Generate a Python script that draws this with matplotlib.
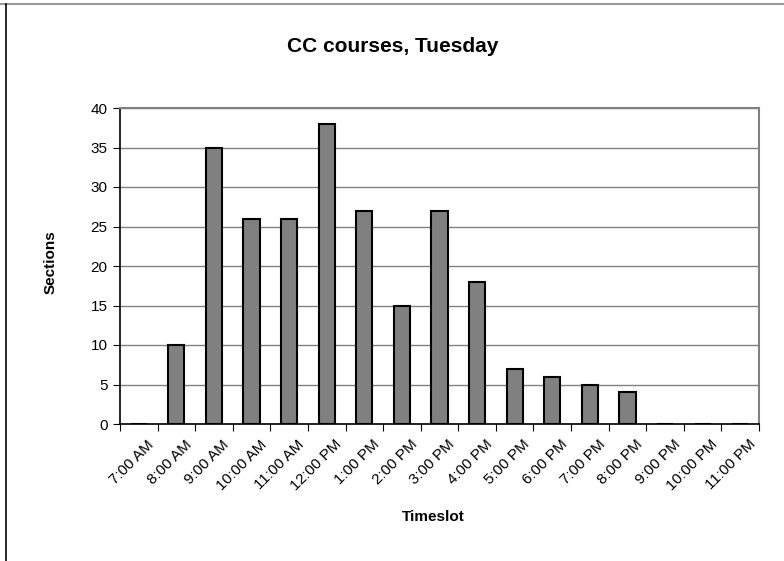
import matplotlib
matplotlib.use("Agg")
import matplotlib.pyplot as plt
import matplotlib.transforms as mtransforms
from matplotlib.lines import Line2D
import numpy as np

plt.rcParams['font.family'] = ['Liberation Sans', 'DejaVu Sans']

categories = ["7:00 AM", "8:00 AM", "9:00 AM", "10:00 AM", "11:00 AM", "12:00 PM",
              "1:00 PM", "2:00 PM", "3:00 PM", "4:00 PM", "5:00 PM", "6:00 PM",
              "7:00 PM", "8:00 PM", "9:00 PM", "10:00 PM", "11:00 PM"]
sections = [0, 10, 35, 26, 26, 38, 27, 15, 27, 18, 7, 6, 5, 4, 0, 0, 0]
yticks = [0, 5, 10, 15, 20, 25, 30, 35, 40]

fig = plt.figure(figsize=(7.84, 5.61), dpi=100)
ax = fig.add_axes([120/784, 1-424/561, (759-120)/784, (424-108)/561])

x = np.arange(len(categories))
ax.bar(x, sections, width=0.43, color="#808080", edgecolor="black", linewidth=1.5, zorder=3)

ax.set_xlim(-0.5, len(categories) - 0.5)
ax.set_ylim(0, 40)
ax.set_yticks(yticks)
ax.set_yticklabels([str(v) for v in yticks], fontsize=11)
ax.yaxis.grid(True, color="#808080", linewidth=1, zorder=0)
ax.set_axisbelow(True)

ax.set_xticks(np.arange(len(categories) + 1) - 0.5)
ax.set_xticklabels([])
ax.set_xticks(x, minor=True)
ax.set_xticklabels(categories, minor=True, rotation=45, ha="right",
                   rotation_mode="anchor", fontsize=11)
ax.tick_params(axis="x", which="minor", length=0, pad=6)
ax.tick_params(axis="x", which="major", length=5, direction="out", color="black")
ax.tick_params(axis="y", length=5, direction="out", color="black", pad=4)

offset = mtransforms.ScaledTranslation(8/100, -5/100, fig.dpi_scale_trans)
for lbl in ax.get_xticklabels(minor=True):
    lbl.set_transform(lbl.get_transform() + offset)

for s in ["top", "right"]:
    ax.spines[s].set_color("#808080")
    ax.spines[s].set_linewidth(1.5)
for s in ["left", "bottom"]:
    ax.spines[s].set_color("black")
    ax.spines[s].set_linewidth(1.2)

fig.text(393/784, 1-47/561, "CC courses, Tuesday", ha="center", va="center",
         fontsize=15, fontweight="bold")
fig.text(51/784, 1-262/561, "Sections", ha="center", va="center", rotation=90,
         fontsize=11, fontweight="bold")
fig.text(433/784, 1-517/561, "Timeslot", ha="center", va="center",
         fontsize=11, fontweight="bold")

fig.add_artist(Line2D([0, 1], [1-3.5/561, 1-3.5/561], color="#999999", linewidth=1.5,
                      transform=fig.transFigure))
fig.add_artist(Line2D([5.5/784, 5.5/784], [0, 1-3.5/561], color="black", linewidth=1.2,
                      transform=fig.transFigure))

fig.savefig("out.png", dpi=100)
